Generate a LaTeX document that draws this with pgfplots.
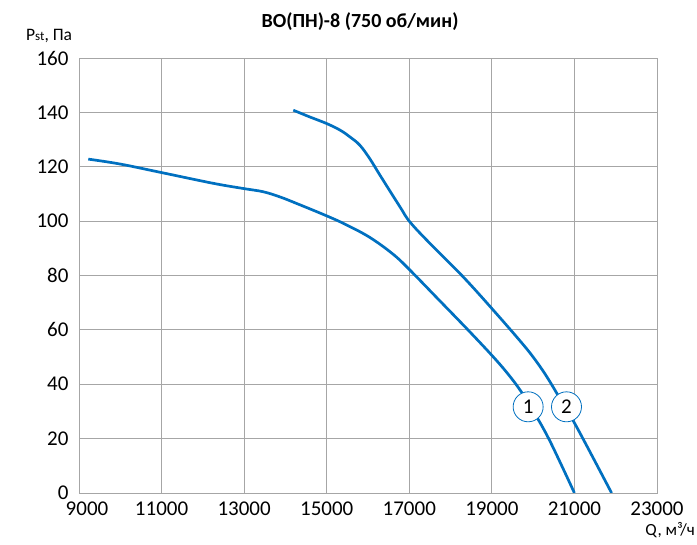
\documentclass[border=0pt]{standalone}
\usepackage{pgfplots}
\pgfplotsset{compat=1.18}
\usepackage{fontspec}
\setmainfont{Carlito}
\definecolor{curve}{RGB}{0,112,192}
\definecolor{gridc}{RGB}{166,166,166}
\begin{document}
\begin{tikzpicture}
\path[use as bounding box] (0,0) rectangle (697pt,545pt);
\begin{axis}[
  at={(79pt,52pt)}, anchor=south west,
  scale only axis, width=578pt, height=435pt,
  xmin=9000, xmax=23000, ymin=0, ymax=160,
  xtick={9000,11000,...,23000}, ytick={0,20,...,160},
  xticklabels={\makebox[0pt]{\hspace{16pt}9000},11000,13000,15000,17000,19000,21000,23000},
  scaled ticks=false,
  grid=major, major grid style={gridc, line width=0.9pt},
  axis line style={gridc, line width=0.9pt},
  tick style={draw=none},
  ticklabel style={font=\fontsize{21}{24}\selectfont, text=black},
  xticklabel style={yshift=-5pt},
  yticklabel style={xshift=-7pt},
  /pgf/number format/assume math mode=true,
  /pgf/number format/.cd, set thousands separator={}, 1000 sep={},
]
\addplot[curve, line width=2.7pt, smooth, tension=0.6] coordinates {
 (9225,122.8) (9993,121.0) (10985,117.9) (12252,113.9) (12978,112.0)
 (13462,110.8) (13867,108.9) (14270,106.5) (15020,101.8) (15480,98.6)
 (16045,94.0) (16610,87.8) (17015,82.0) (17700,71.3) (18427,59.9) (19032,50.1)
 (19400,43.6) (19700,37.5) (20000,30.2) (20400,19.3) (21000,0)};
\addplot[curve, line width=2.7pt, smooth, tension=0.6] coordinates {
 (14190,140.8) (14593,138.3) (14997,135.9) (15320,133.5) (15560,131)
 (15804,127.9) (16050,122.8) (16290,116.9) (16772,105.3) (17015,99.7)
 (17500,91.8) (18305,79.5) (19032,67.3) (19680,56.0) (20000,50.0)
 (20300,43.5) (20600,36.0) (21050,24.4) (21900,0)};
\node[circle, draw=curve, fill=white, line width=0.8pt, minimum size=30pt, inner sep=0pt,
  font=\fontsize{21}{24}\selectfont] at (axis cs:19879,31.7) {1};
\node[circle, draw=curve, fill=white, line width=0.8pt, minimum size=30pt, inner sep=0pt,
  font=\fontsize{21}{24}\selectfont] at (axis cs:20808,31.7) {2};
\end{axis}
\node[font=\bfseries\fontsize{20}{23}\selectfont] at (360pt,523pt) {ВО(ПН)-8 (750 об/мин)};
\node[anchor=base west, inner sep=0pt, font=\fontsize{17.5}{20}\selectfont] at (26pt,504pt) {P{\fontsize{13}{15}\selectfont st}, Па};
\node[anchor=east, inner sep=0pt, font=\fontsize{17}{19}\selectfont] at (695pt,15pt) {Q, м³/ч};
\end{tikzpicture}
\end{document}
